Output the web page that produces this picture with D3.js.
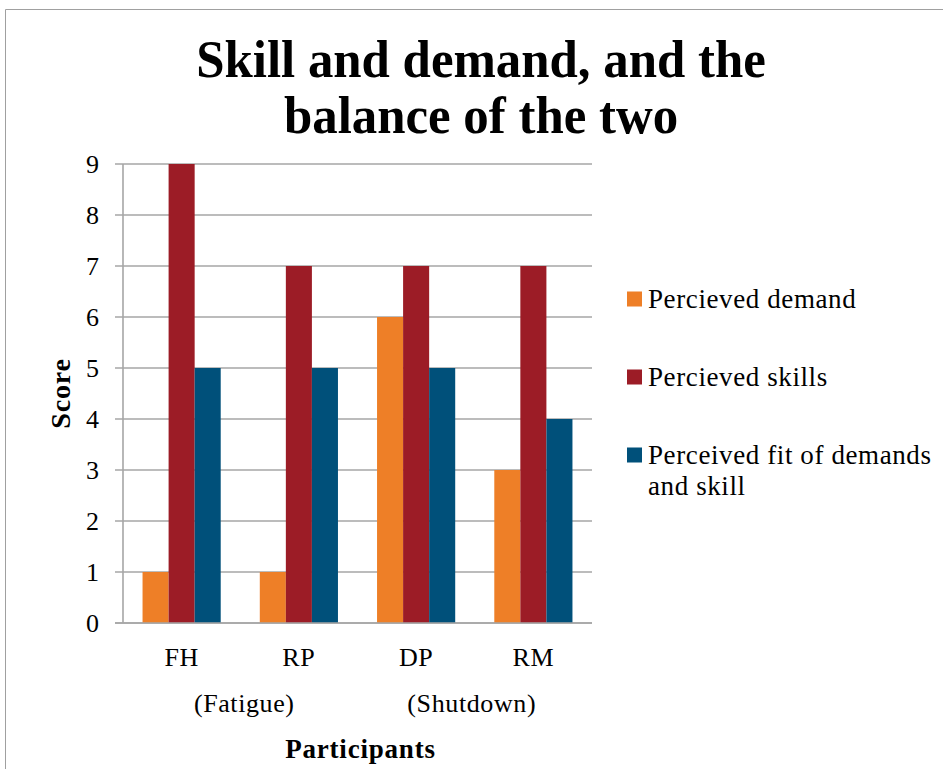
<!doctype html>
<html>
<head>
<meta charset="UTF-8" />
<script src="https://cdn.jsdelivr.net/npm/d3@7"></script>
<style>
  body { margin: 0; background: #fff; }
  svg { display: block; font-family: "Liberation Serif", "DejaVu Serif", serif; }
</style>
</head>
<body>
<svg id="chart" width="943" height="769"></svg>
<script>
// chart data
const participants = ["FH", "RP", "DP", "RM"];
const groupLabels = ["(Fatigue)", "(Shutdown)"];
const seriesNames = ["Percieved demand", "Percieved skills", "Perceived fit of demands and skill"];
const demand = [1, 1, 6, 3];
const skills = [9, 7, 7, 7];
const fit = [5, 5, 5, 4];
const yTicks = [0, 1, 2, 3, 4, 5, 6, 7, 8, 9];

const colors = ["#EE7F27", "#9C1C26", "#00507A"];
const series = [demand, skills, fit];

const svg = d3.select("#chart");

// outer frame (only top & left visible in the picture)
svg.append("path")
  .attr("d", "M5.5,769 L5.5,9.5 L943,9.5")
  .attr("fill", "none")
  .attr("stroke", "#a0a0a0")
  .attr("stroke-width", 1);

const margin = { left: 123, right: 592, top: 164, bottom: 623 };

const x = d3.scaleBand()
  .domain(participants)
  .range([margin.left, margin.right])
  .paddingInner(0)
  .paddingOuter(0);

const y = d3.scaleLinear()
  .domain([0, 9])
  .range([margin.bottom, margin.top]);

// bars take 3 of 4.5 units in each band (gap width 150%)
const barW = x.bandwidth() / 4.5;

// gridlines with small tick stubs on the left
svg.append("g")
  .selectAll("line")
  .data(yTicks)
  .join("line")
  .attr("x1", margin.left - 8)
  .attr("x2", margin.right)
  .attr("y1", d => y(d))
  .attr("y2", d => y(d))
  .attr("stroke", "#a6a6a6")
  .attr("stroke-width", 1.6);

// y axis line
svg.append("line")
  .attr("x1", margin.left).attr("x2", margin.left)
  .attr("y1", y(9)).attr("y2", y(0))
  .attr("stroke", "#a6a6a6")
  .attr("stroke-width", 1.6);

// bars
series.forEach(function (vals, s) {
  svg.append("g")
    .selectAll("rect")
    .data(vals)
    .join("rect")
    .attr("x", (d, i) => x(participants[i]) + barW * (0.75 + s))
    .attr("y", d => y(d))
    .attr("width", barW)
    .attr("height", d => y(0) - y(d))
    .attr("fill", colors[s]);
});

// redraw baseline on top of bars
svg.append("line")
  .attr("x1", margin.left - 8).attr("x2", margin.right)
  .attr("y1", y(0)).attr("y2", y(0))
  .attr("stroke", "#a6a6a6")
  .attr("stroke-width", 1.6);

// y tick labels
svg.append("g")
  .selectAll("text")
  .data(yTicks)
  .join("text")
  .attr("x", 99)
  .attr("y", d => y(d))
  .attr("dy", "0.34em")
  .attr("text-anchor", "end")
  .attr("font-size", 26)
  .attr("fill", "#000")
  .text(d => d);

// x tick labels
svg.append("g")
  .selectAll("text")
  .data(participants)
  .join("text")
  .attr("x", d => x(d) + x.bandwidth() / 2)
  .attr("y", 666)
  .attr("text-anchor", "middle")
  .attr("font-size", 26)
  .attr("letter-spacing", 0.6)
  .text(d => d);

// second row: one label per pair of participants
svg.append("g")
  .selectAll("text")
  .data(groupLabels)
  .join("text")
  .attr("x", (d, i) => x(participants[i * 2 + 1]) + (i === 0 ? 4 : -3))
  .attr("y", 712)
  .attr("text-anchor", "middle")
  .attr("font-size", 26)
  .attr("letter-spacing", 0.6)
  .text(d => d);

// axis titles
svg.append("text")
  .attr("x", (margin.left + margin.right) / 2 + 3)
  .attr("y", 758)
  .attr("text-anchor", "middle")
  .attr("font-size", 27)
  .attr("font-weight", "bold")
  .attr("letter-spacing", 0.8)
  .text("Participants");

svg.append("text")
  .attr("transform", "translate(70," + ((margin.top + margin.bottom) / 2) + ") rotate(-90)")
  .attr("text-anchor", "middle")
  .attr("font-size", 28)
  .attr("font-weight", "bold")
  .attr("letter-spacing", 0.8)
  .text("Score");

// title (condensed bold look)
const titleG = svg.append("g")
  .attr("transform", "translate(481,0) scale(0.96,1)");
titleG.append("text")
  .attr("x", 0).attr("y", 77)
  .attr("text-anchor", "middle")
  .attr("font-size", 53)
  .attr("font-weight", "bold")
  .text("Skill and demand, and the");
titleG.append("text")
  .attr("x", 0).attr("y", 133)
  .attr("text-anchor", "middle")
  .attr("font-size", 53)
  .attr("font-weight", "bold")
  .text("balance of the two");

// legend
const legendRows = [
  { lines: ["Percieved demand"], y: 299 },
  { lines: ["Percieved skills"], y: 377 },
  { lines: ["Perceived fit of demands", "and skill"], y: 455 }
];
const legend = svg.append("g");
legendRows.forEach(function (r, i) {
  legend.append("rect")
    .attr("x", 627)
    .attr("y", r.y - 7.5)
    .attr("width", 15)
    .attr("height", 15)
    .attr("fill", colors[i]);
  const t = legend.append("text")
    .attr("font-size", 27)
    .attr("letter-spacing", 0.6);
  r.lines.forEach(function (line, j) {
    t.append("tspan")
      .attr("x", 648)
      .attr("y", r.y + j * 31)
      .attr("dy", "0.34em")
      .text(line);
  });
});
</script>
</body>
</html>
